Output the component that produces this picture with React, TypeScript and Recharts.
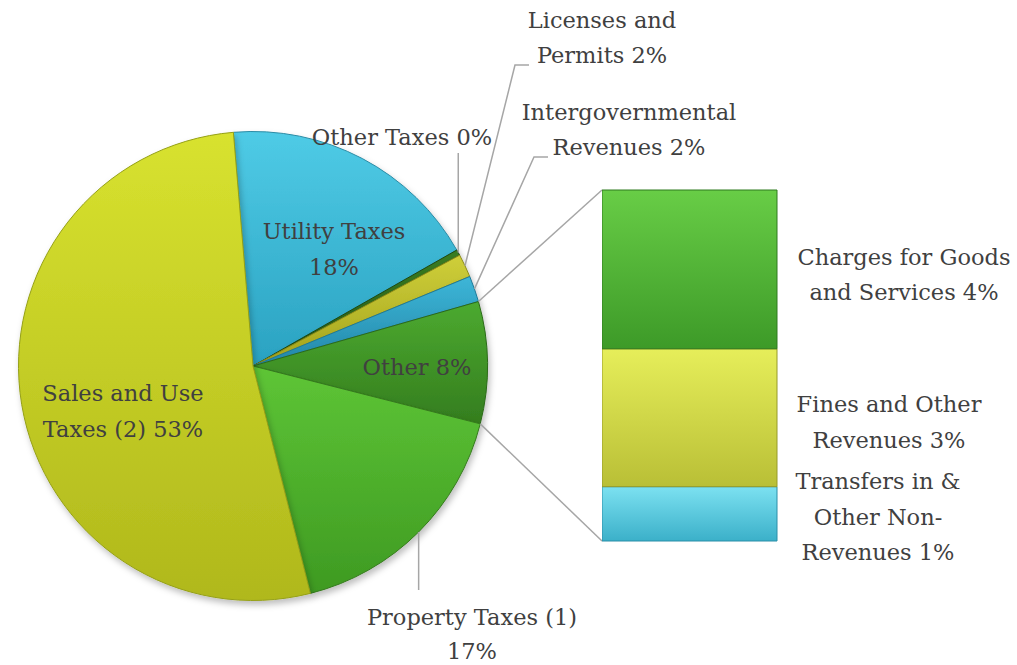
import React from 'react';
import { PieChart, Pie, Cell, BarChart, Bar, XAxis, YAxis } from 'recharts';

// ---------- data ----------
const categories = [
  'Utility Taxes',
  'Other Taxes',
  'Licenses and Permits',
  'Intergovernmental Revenues',
  'Other',
  'Property Taxes (1)',
  'Sales and Use Taxes (2)',
];
const shares = [18.1, 0.4, 1.6, 1.8, 8.4, 17.1, 52.6];

const otherCategories = ['Charges for Goods and Services', 'Fines and Other Revenues', 'Transfers in & Other Non-Revenues'];
const otherShares = [3.8, 3.3, 1.3];

// label texts ({p} = percentage)
const pieLabelLines = [
  ['Utility Taxes', '{p}'],
  ['Other Taxes {p}'],
  ['Licenses and', 'Permits  {p}'],
  ['Intergovernmental', 'Revenues  {p}'],
  ['Other {p}'],
  ['Property Taxes (1)', '{p}'],
  ['Sales and Use', 'Taxes (2) {p}'],
];
const barLabelLines = [
  ['Charges for Goods', 'and Services  {p}'],
  ['Fines and Other', 'Revenues {p}'],
  ['Transfers in &', 'Other Non-', 'Revenues {p}'],
];

// ---------- layout / style ----------
const W = 1017;
const H = 665;
const CX = 253;
const CY = 366;
const R = 234.5;
const START = 94.8;
const BAR_LEFT = 602;
const BAR_TOP = 190;
const BAR_W = 175;
const BAR_H = 351;
const BAR_PAD_T = 20;
const BAR_PAD_B = 40;
const LINE_H = 35.5;
const FONT = '"DejaVu Serif", serif';
const FONT_SIZE = 22.5;
const TEXT_COLOR = '#404040';
const LEADER = '#a6a6a6';

// label centre offsets from pie centre, leader paths (relative to centre)
const PIE_LABEL_POS: { dx: number; dy: number; lineH?: number; leader?: 'vertical' | number[][]; leaderTo?: number }[] = [
  { dx: 81, dy: -117 },
  { dx: 149, dy: -229, leader: 'vertical', leaderTo: -213 },
  { dx: 349, dy: -328.5, leader: [[262, -301], [276, -301]] },
  { dx: 376, dy: -236.5, leader: [[281, -209], [295, -209]] },
  { dx: 164, dy: 1 },
  { dx: 219, dy: 267.5, lineH: 34, leader: 'vertical', leaderTo: 224 },
  { dx: -130, dy: 45 },
];
const BAR_LABEL_POS = [
  { dx: 127, dy: 5 },
  { dx: 112, dy: 4.5 },
  { dx: 101, dy: 3 },
];

const PIE_GRAD = [
  ['#4fcbe6', '#2aa2c1'],
  ['#3a7d22', '#235613'],
  ['#cfcf3a', '#a3a31c'],
  ['#3db6d8', '#2387a8'],
  ['#4caa30', '#347d1e'],
  ['#5ec536', '#3e9a22'],
  ['#d8e22f', '#b0b81c'],
];
const PIE_STROKE = ['#2a8ba5', '#1f4a10', '#8c8c18', '#1f7a98', '#2b6a19', '#357a1d', '#95a018'];
const BAR_GRAD = [
  ['#68cd46', '#3d9a28'],
  ['#e6ee5a', '#b9bf36'],
  ['#7ce1f1', '#3bb0c9'],
];
const BAR_STROKE = ['#2f7a1e', '#969a28', '#2a8ea8'];

const pieData = categories.map((name, i) => ({ name, value: shares[i] }));
const barRow: Record<string, number | string> = { name: 'Other' };
otherCategories.forEach((c, i) => {
  barRow[c] = otherShares[i];
});
const barData = [barRow];
const barTotal = otherShares.reduce((a, b) => a + b, 0);

const RAD = Math.PI / 180;
const polar = (cx: number, cy: number, r: number, a: number) => [cx + r * Math.cos(-a * RAD), cy + r * Math.sin(-a * RAD)];

const renderLines = (lines: string[], x: number, y: number, key: string, lineH = LINE_H) =>
  lines.map((t, i) => (
    <text
      key={key + i}
      x={x}
      y={y + (i - (lines.length - 1) / 2) * lineH}
      textAnchor="middle"
      dominantBaseline="central"
      fontFamily={FONT}
      fontSize={FONT_SIZE}
      fill={TEXT_COLOR}
    >
      {t}
    </text>
  ));

const renderPieLabel = (props: any) => {
  const { cx, cy, midAngle, outerRadius, index, percent, startAngle, endAngle } = props;
  const pos = PIE_LABEL_POS[index];
  const pct = `${Math.round(percent * 100)}%`;
  const lines = pieLabelLines[index].map((l) => l.replace('{p}', pct));
  const lx = cx + pos.dx;
  const ly = cy + pos.dy;
  const parts: React.ReactNode[] = [];
  const [ex, ey] = polar(cx, cy, outerRadius, midAngle);
  if (pos.leader === 'vertical') {
    parts.push(<polyline key="ld" points={`${ex},${ey} ${ex},${cy + (pos.leaderTo as number)}`} fill="none" stroke={LEADER} strokeWidth={1.5} />);
  } else if (Array.isArray(pos.leader)) {
    const pts = [[ex, ey], ...pos.leader.map(([dx, dy]) => [cx + dx, cy + dy])];
    parts.push(<polyline key="ld" points={pts.map((p) => p.join(',')).join(' ')} fill="none" stroke={LEADER} strokeWidth={1.5} />);
  }
  if (index === 4) {
    const [sx, sy] = polar(cx, cy, outerRadius, startAngle);
    const [tx, ty] = polar(cx, cy, outerRadius, endAngle);
    parts.push(<line key="c1" x1={sx} y1={sy} x2={BAR_LEFT} y2={BAR_TOP} stroke={LEADER} strokeWidth={1.5} />);
    parts.push(<line key="c2" x1={tx} y1={ty} x2={BAR_LEFT} y2={BAR_TOP + BAR_H} stroke={LEADER} strokeWidth={1.5} />);
  }
  return (
    <g key={`pl${index}`}>
      {parts}
      {renderLines(lines, lx, ly, `t${index}`, pos.lineH ?? LINE_H)}
    </g>
  );
};

const makeBarLabel = (i: number) => (props: any) => {
  const { x, y, width, height } = props;
  const pos = BAR_LABEL_POS[i];
  const pct = `${Math.round(otherShares[i])}%`;
  const lines = barLabelLines[i].map((l) => l.replace('{p}', pct));
  return <g key={`bl${i}`}>{renderLines(lines, x + width + pos.dx, y + height / 2 + pos.dy, `b${i}`)}</g>;
};

export default function App() {
  const stackOrder = [2, 1, 0]; // bottom to top
  return (
    <div style={{ position: 'absolute', left: 0, top: 0, width: W, height: H, background: '#fff' }}>
      <PieChart width={W} height={H} margin={{ top: 0, right: 0, bottom: 0, left: 0 }}>
        <defs>
          {PIE_GRAD.map(([a, b], i) => (
            <linearGradient key={i} id={`pg${i}`} x1="0" y1="0" x2="0" y2="1">
              <stop offset="0%" stopColor={a} />
              <stop offset="100%" stopColor={b} />
            </linearGradient>
          ))}
          <filter id="pieShadow" x="-10%" y="-10%" width="120%" height="125%">
            <feDropShadow dx="2" dy="4" stdDeviation="3" floodColor="#000" floodOpacity="0.25" />
          </filter>
        </defs>
        <Pie
          data={pieData}
          dataKey="value"
          nameKey="name"
          cx={CX}
          cy={CY}
          outerRadius={R}
          startAngle={START}
          endAngle={START - 360}
          isAnimationActive={false}
          labelLine={false}
          label={renderPieLabel}
          style={{ filter: 'url(#pieShadow)' }}
        >
          {pieData.map((d, i) => (
            <Cell key={d.name} fill={`url(#pg${i})`} stroke={PIE_STROKE[i]} strokeWidth={1} />
          ))}
        </Pie>
      </PieChart>
      <div style={{ position: 'absolute', left: BAR_LEFT, top: BAR_TOP - BAR_PAD_T }}>
        <BarChart
          width={W - BAR_LEFT}
          height={BAR_H + BAR_PAD_T + BAR_PAD_B}
          data={barData}
          margin={{ top: BAR_PAD_T, right: W - BAR_LEFT - BAR_W, bottom: BAR_PAD_B, left: 0 }}
          barCategoryGap={0}
          barGap={0}
        >
          <defs>
            {BAR_GRAD.map(([a, b], i) => (
              <linearGradient key={i} id={`bg${i}`} x1="0" y1="0" x2="0" y2="1">
                <stop offset="0%" stopColor={a} />
                <stop offset="100%" stopColor={b} />
              </linearGradient>
            ))}
          </defs>
          <XAxis dataKey="name" hide />
          <YAxis hide domain={[0, barTotal]} type="number" />
          {stackOrder.map((i) => (
            <Bar
              key={otherCategories[i]}
              dataKey={otherCategories[i]}
              stackId="s"
              fill={`url(#bg${i})`}
              stroke={BAR_STROKE[i]}
              strokeWidth={1}
              isAnimationActive={false}
              label={makeBarLabel(i)}
            />
          ))}
        </BarChart>
      </div>
    </div>
  );
}
